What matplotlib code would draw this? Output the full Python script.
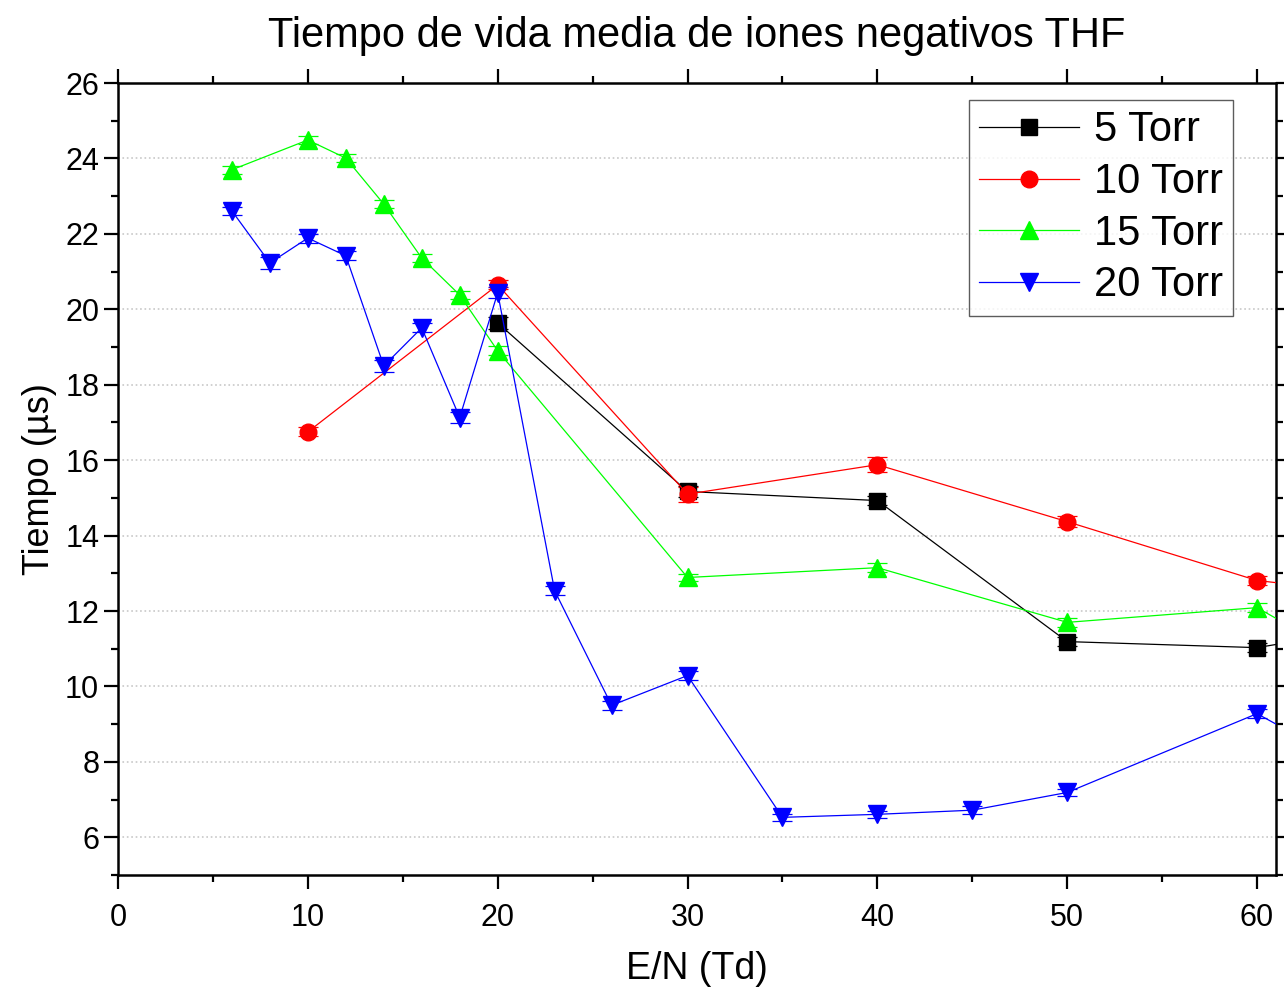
import numpy as np
import matplotlib
matplotlib.use('Agg')
import matplotlib.pyplot as plt
from matplotlib.ticker import MultipleLocator
from matplotlib.lines import Line2D

plt.rcParams['font.family'] = ['Liberation Sans', 'DejaVu Sans']

# data (E/N in Td, time in us)
x_5 = [20, 30, 40, 50, 60, 70]
y_5 = [19.64, 15.17, 14.93, 11.19, 11.03, 11.87]
e_5 = [0.15, 0.15, 0.12, 0.12, 0.12, 0.12]

x_10 = [10, 20, 30, 40, 50, 60, 70]
y_10 = [16.75, 20.65, 15.10, 15.88, 14.37, 12.81, 12.24]
e_10 = [0.12, 0.12, 0.2, 0.2, 0.15, 0.12, 0.12]

x_15 = [6, 10, 12, 14, 16, 18, 20, 30, 40, 50, 60, 70]
y_15 = [23.70, 24.49, 24.01, 22.79, 21.36, 20.38, 18.90, 12.89, 13.15, 11.70, 12.09, 9.25]
e_15 = [0.1, 0.1, 0.1, 0.1, 0.1, 0.1, 0.12, 0.1, 0.12, 0.12, 0.12, 0.12]

x_20 = [6, 8, 10, 12, 14, 16, 18, 20, 23, 26, 30, 35, 40, 45, 50, 60, 70]
y_20 = [22.61, 21.23, 21.89, 21.42, 18.50, 19.51, 17.13, 20.44, 12.54, 9.50,
        10.29, 6.53, 6.61, 6.72, 7.19, 9.28, 6.50]
e_20 = [0.1, 0.15, 0.12, 0.12, 0.15, 0.12, 0.15, 0.15, 0.12, 0.12,
        0.12, 0.1, 0.1, 0.1, 0.1, 0.12, 0.1]

series = [
    ('5 Torr', x_5, y_5, e_5, '#000000', 's', 11),
    ('10 Torr', x_10, y_10, e_10, '#ff0000', 'o', 12),
    ('15 Torr', x_15, y_15, e_15, '#00ff00', '^', 13),
    ('20 Torr', x_20, y_20, e_20, '#0000ff', 'v', 13),
]

fig = plt.figure(figsize=(12.84, 9.91), dpi=100)
ax = fig.add_axes([0.0919, 0.117, 0.9019, 0.7992])

handles = []
for label, xs, ys, es, col, mk, ms in series:
    ax.errorbar(xs, ys, yerr=es, color=col, lw=0.9, marker=mk, ms=ms,
                mec=col, mfc=col, capsize=7, elinewidth=0.9, capthick=0.9,
                zorder=3)
    handles.append(Line2D([], [], color=col, lw=0.9, marker=mk, ms=ms,
                          mec=col, mfc=col, label=label))

ax.set_xlim(0, 61)
ax.set_ylim(5, 26)
ax.xaxis.set_major_locator(MultipleLocator(10))
ax.xaxis.set_minor_locator(MultipleLocator(5))
ax.yaxis.set_minor_locator(MultipleLocator(1))
ax.set_yticks([6, 8, 10, 12, 14, 16, 18, 20, 22, 24, 26])

ax.grid(axis='y', which='major', color='#c8c8c8', ls=':', lw=1.2)
ax.set_axisbelow(True)

for sp in ax.spines.values():
    sp.set_linewidth(1.8)

ax.tick_params(which='both', direction='out', width=1.6,
               top=True, right=True, labelsize=22)
ax.tick_params(which='major', length=10)
ax.tick_params(which='minor', length=5)
ax.tick_params(axis='x', pad=10)

ax.set_xlabel('E/N (Td)', fontsize=27, labelpad=13)
ax.set_ylabel('Tiempo (µs)', fontsize=26, labelpad=6)
ax.set_title('Tiempo de vida media de iones negativos THF', fontsize=30, pad=26)

leg = ax.legend(handles=handles, loc='upper right', bbox_to_anchor=(0.963, 0.9785),
                fontsize=30, frameon=True, fancybox=False, handlelength=2.4,
                borderpad=0.25, labelspacing=0.28, handletextpad=0.35,
                borderaxespad=0)
leg.get_frame().set_edgecolor('#333333')
leg.get_frame().set_linewidth(1.0)

fig.savefig('out.png', dpi=100)
